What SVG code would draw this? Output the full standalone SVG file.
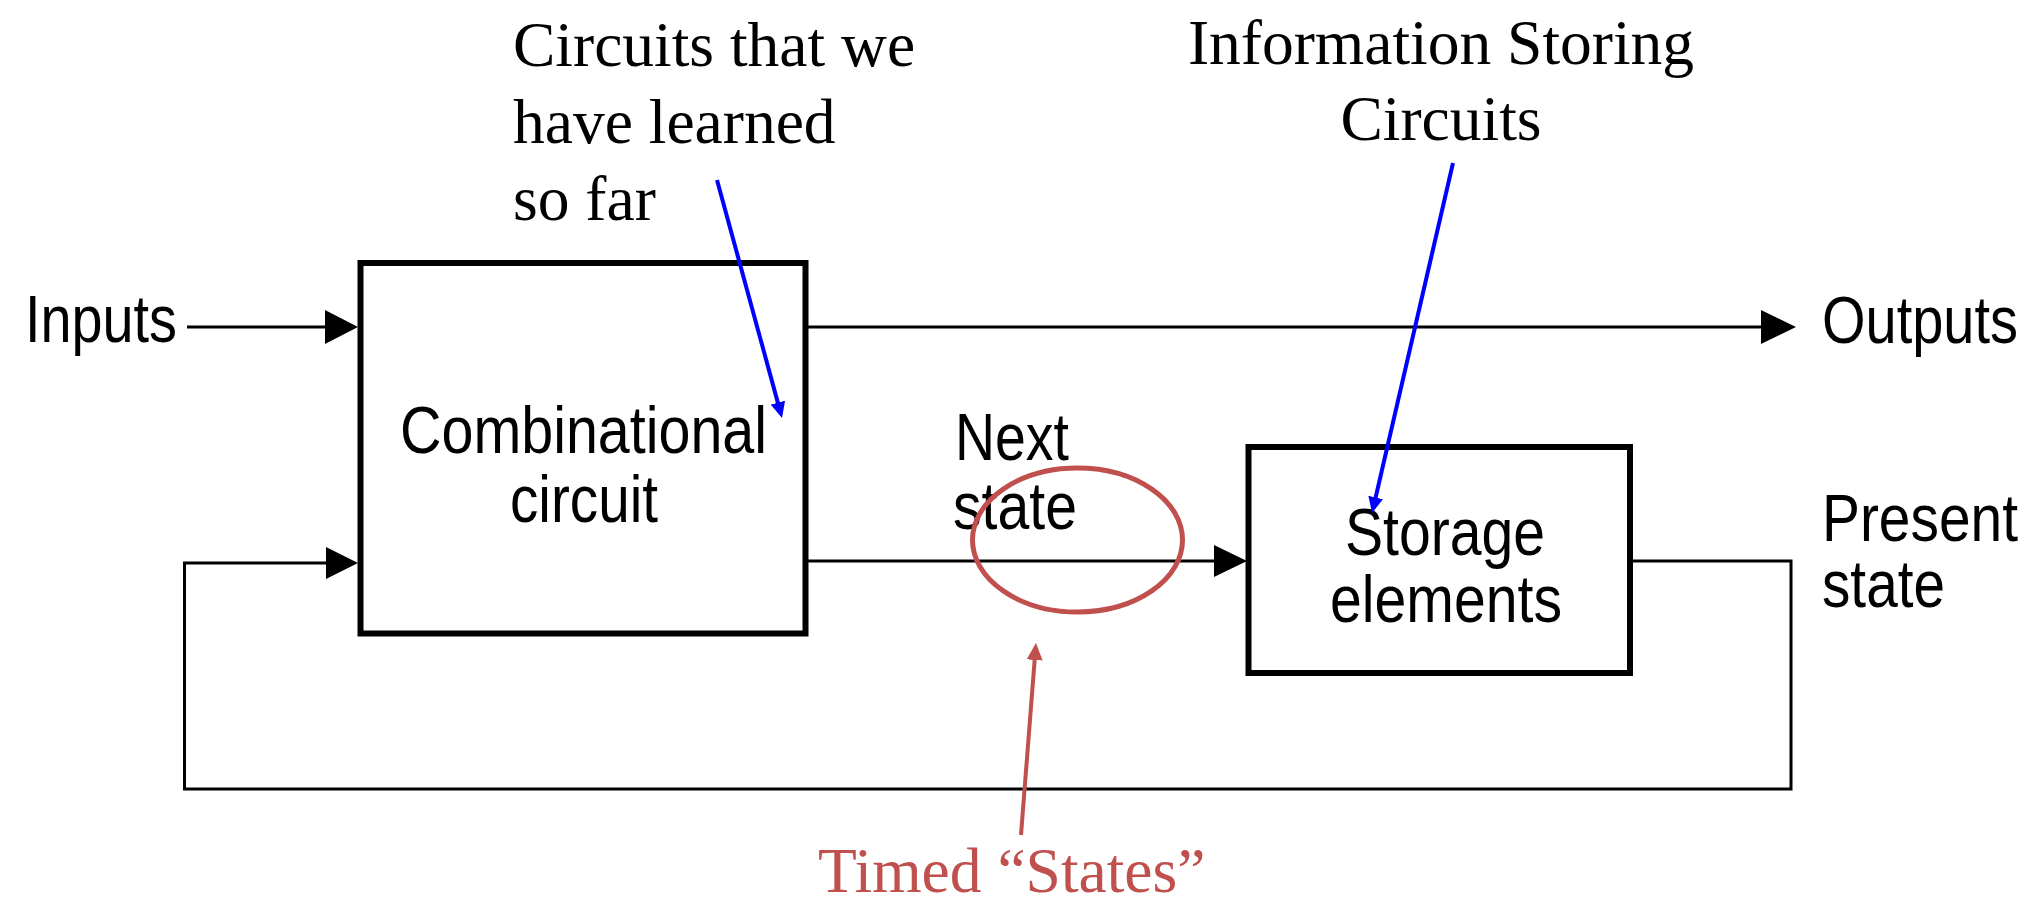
<svg xmlns="http://www.w3.org/2000/svg" width="2031" height="898" viewBox="0 0 2031 898">
  <style>
    .box { fill: #ffffff; stroke: #000000; stroke-width: 6; }
    .wire { fill: none; stroke: #000000; stroke-width: 3; }
    .head { fill: #000000; }
    .sans { font-family: "Liberation Sans", Arial, sans-serif; font-size: 66px; fill: #000000; }
    .serif { font-family: "Liberation Serif", "Times New Roman", serif; font-size: 63.5px; fill: #000000; }
    .note-blue { fill: none; stroke: #0000FF; stroke-width: 4; }
    .note-red { fill: none; stroke: #C0504D; stroke-width: 4; }
  </style>
  <defs>
    <marker id="blueHead" markerUnits="userSpaceOnUse" markerWidth="16" markerHeight="15" refX="6" refY="7.5" orient="auto">
      <path d="M0,0 L16,7.5 L0,15 Z" fill="#0000FF"/>
    </marker>
    <marker id="redHead" markerUnits="userSpaceOnUse" markerWidth="17" markerHeight="16" refX="7" refY="8" orient="auto">
      <path d="M0,0 L17,8 L0,16 Z" fill="#C0504D"/>
    </marker>
  </defs>

  <rect width="2031" height="898" fill="#ffffff"/>

  <!-- signal wiring -->
  <g id="connectors">
    <line class="wire" x1="187" y1="327" x2="330" y2="327"/>
    <polygon class="head" points="325,310 358,327 325,344"/>
    <line class="wire" x1="808" y1="327" x2="1765" y2="327"/>
    <polygon class="head" points="1761,310 1796,327 1761,344"/>
    <line class="wire" x1="808" y1="561" x2="1220" y2="561"/>
    <polygon class="head" points="1214,545 1247,561 1214,577"/>
    <polyline class="wire" points="1633,561 1791,561 1791,789 184.5,789 184.5,563 330,563"/>
    <polygon class="head" points="326,547 358,563 326,579"/>
  </g>

  <g id="node-combinational">
    <rect class="box" x="360.5" y="263" width="445" height="370.5"/>
    <text class="sans" x="400" y="453" textLength="367" lengthAdjust="spacingAndGlyphs">Combinational</text>
    <text class="sans" x="510" y="522" textLength="148" lengthAdjust="spacingAndGlyphs">circuit</text>
  </g>

  <g id="node-storage">
    <rect class="box" x="1248.5" y="447" width="381.5" height="226"/>
    <text class="sans" x="1345" y="555" textLength="200" lengthAdjust="spacingAndGlyphs">Storage</text>
    <text class="sans" x="1330" y="622" textLength="232" lengthAdjust="spacingAndGlyphs">elements</text>
  </g>

  <g id="signal-labels">
    <text class="sans" x="25" y="342" textLength="152" lengthAdjust="spacingAndGlyphs">Inputs</text>
    <text class="sans" x="1822" y="343" textLength="196" lengthAdjust="spacingAndGlyphs">Outputs</text>
    <text class="sans" x="955" y="460" textLength="114" lengthAdjust="spacingAndGlyphs">Next</text>
    <text class="sans" x="953" y="529" textLength="124" lengthAdjust="spacingAndGlyphs">state</text>
    <text class="sans" x="1822" y="541" textLength="196" lengthAdjust="spacingAndGlyphs">Present</text>
    <text class="sans" x="1822" y="607" textLength="123" lengthAdjust="spacingAndGlyphs">state</text>
  </g>

  <!-- callouts -->
  <g id="note-combinational">
    <text class="serif" x="513" y="66">Circuits that we</text>
    <text class="serif" x="513" y="143">have learned</text>
    <text class="serif" x="513" y="220">so far</text>
    <line class="note-blue" x1="717" y1="180" x2="779.4" y2="408.4" marker-end="url(#blueHead)"/>
  </g>

  <g id="note-storage">
    <text class="serif" x="1441" y="64" text-anchor="middle">Information Storing</text>
    <text class="serif" x="1441" y="140" text-anchor="middle">Circuits</text>
    <line class="note-blue" x1="1453" y1="163" x2="1374.3" y2="503.3" marker-end="url(#blueHead)"/>
  </g>

  <g id="note-timed-states">
    <ellipse cx="1077.5" cy="540" rx="105" ry="72" fill="none" stroke="#C0504D" stroke-width="5"/>
    <line class="note-red" x1="1021" y1="835" x2="1035.2" y2="653" marker-end="url(#redHead)"/>
    <text class="serif" x="818" y="892" fill="#C0504D" style="fill:#C0504D">Timed “States”</text>
  </g>
</svg>
